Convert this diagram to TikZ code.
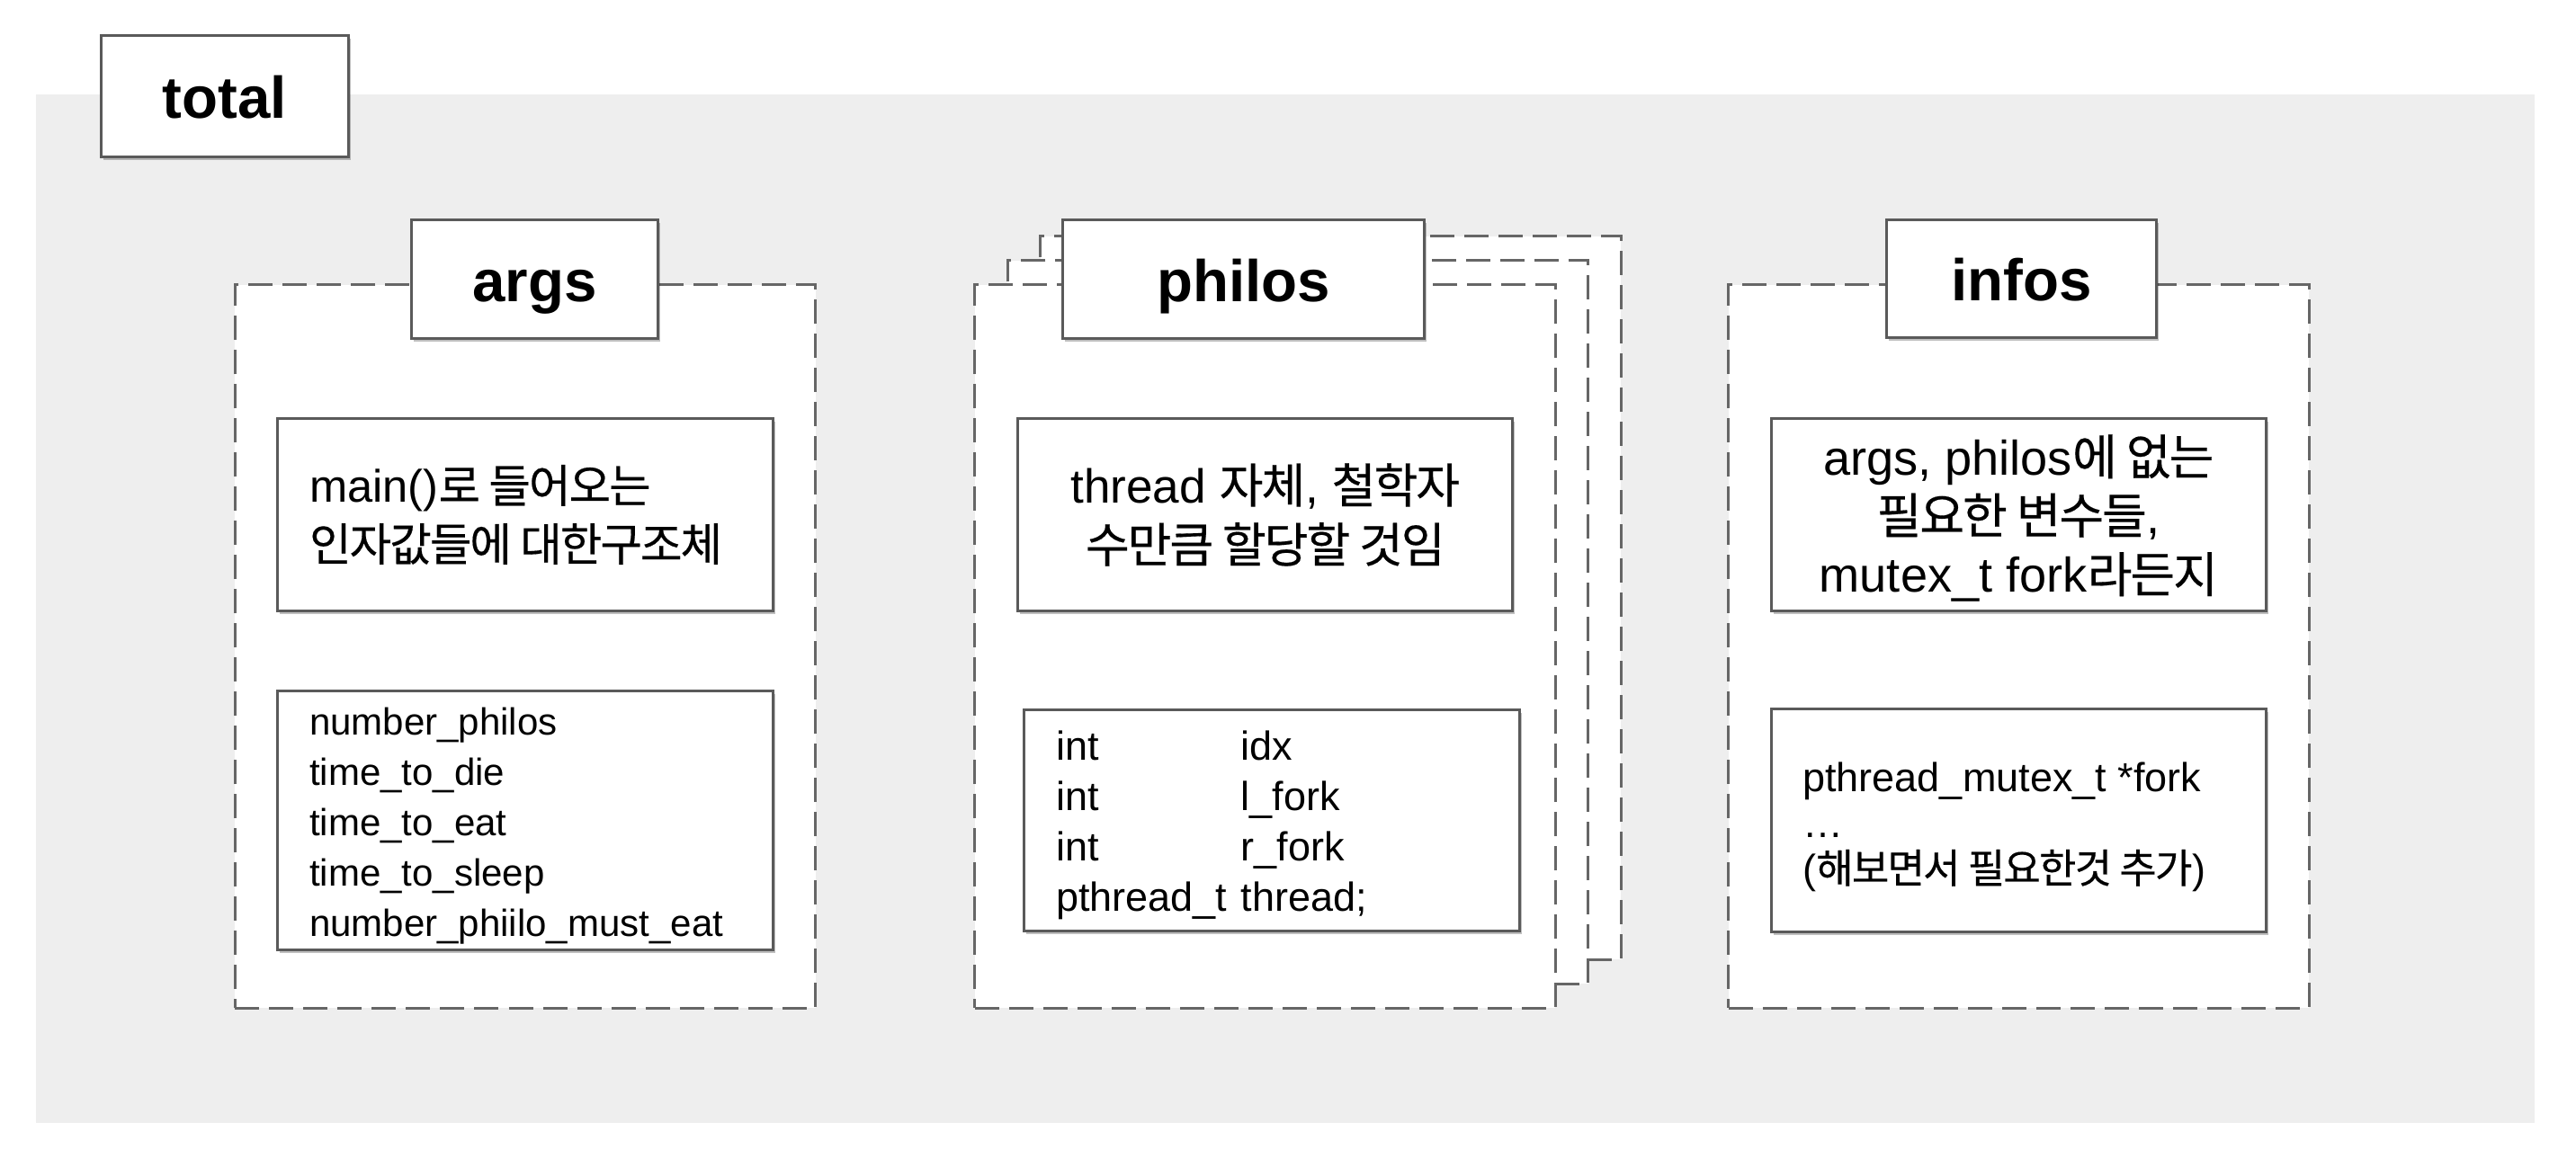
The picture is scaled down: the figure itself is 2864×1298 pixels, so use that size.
\documentclass[tikz,border=0pt]{standalone}
\usepackage{fontspec}
\setmainfont{Liberation Sans}
\newfontfamily\kr[Scale=1.0,LetterSpace=-4,FakeBold=0.3]{Noto Sans CJK KR}
\usetikzlibrary{shadows}
\definecolor{bggray}{RGB}{238,238,238}
\definecolor{edgegray}{RGB}{90,90,90}
\definecolor{dashgray}{RGB}{102,102,102}
\begin{document}
\begin{tikzpicture}[x=0.01cm,y=-0.01cm,
  solidbox/.style={draw=edgegray, line width=0.03cm, fill=white, rectangle, inner sep=0pt,
     drop shadow={shadow xshift=0.025cm, shadow yshift=-0.035cm, opacity=0.25, fill=black}},
  dashframe/.style={draw=dashgray, line width=0.03cm, fill=white, rectangle, inner sep=0pt,
     dash pattern=on 0.27cm off 0.11cm, minimum width=6.45cm, minimum height=8.04cm},
  labelbox/.style={solidbox, minimum height=1.31cm, text height=14pt, text depth=0pt,
     font=\fontsize{18.6pt}{22pt}\selectfont\bfseries},
  descbox/.style={solidbox, minimum width=5.5cm, minimum height=2.13cm},
  lefttext/.style={anchor=west, align=left, inner sep=0pt}
]
\useasboundingbox (0,0) rectangle (2864,1298);
\fill[bggray] (40,105) rectangle (2818,1249);

% total
\node[labelbox, minimum width=2.74cm, minimum height=1.34cm] (total) at (250,107) {total};

% args
\node[dashframe] (argsframe) at (584,719) {};
\node[labelbox, minimum width=2.73cm] (argslabel) at (594.5,310.5) {args};
\node[descbox] (argsdesc) at (584,572.5) {};
\node[lefttext, font=\fontsize{14.4pt}{18.5pt}\selectfont] (argsdesctxt) at ([xshift=0.36cm]argsdesc.west)
  {main(){\kr 로 들어오는}\\{\kr 인자값들에 대한구조체}};
\node[solidbox, minimum width=5.5cm, minimum height=2.87cm] (argslist) at (584,912.5) {};
\node[lefttext, font=\fontsize{11.95pt}{15.9pt}\selectfont] (argslisttxt) at ([xshift=0.36cm,yshift=-0.06cm]argslist.west)
  {number\_philos\\time\_to\_die\\time\_to\_eat\\time\_to\_sleep\\number\_phiilo\_must\_eat};

% philos (stacked)
\node[dashframe] (philosback) at (1479.5,665) {};
\node[dashframe] (philosmid) at (1443,692) {};
\node[dashframe] (philosframe) at (1406.5,719) {};
\node[labelbox, minimum width=4.01cm] (philoslabel) at (1382.5,310.5) {philos};
\node[descbox, align=center, font=\fontsize{15.1pt}{18.8pt}\selectfont] (philosdesc) at (1406.75,572.5)
  {thread {\kr 자체}, {\kr 철학자}\\{\kr 수만큼 할당할 것임}};
\node[solidbox, minimum width=5.5cm, minimum height=2.455cm] (philoscode) at (1414,912.75) {};
\node[lefttext, font=\fontsize{12.8pt}{15.9pt}\selectfont] (philoscodetxt) at ([xshift=0.36cm,yshift=-0.05cm]philoscode.west)
  {\makebox[2.055cm][l]{int}idx\\\makebox[2.055cm][l]{int}l\_fork\\\makebox[2.055cm][l]{int}r\_fork\\\makebox[2.055cm][l]{pthread\_t}thread;};

% infos
\node[dashframe] (infosframe) at (2244.5,719) {};
\node[labelbox, minimum width=3.0cm] (infoslabel) at (2247.5,310) {infos};
\node[descbox] (infosdesc) at (2244.25,572.5) {};
\node[align=center, inner sep=0pt, font=\fontsize{15.4pt}{18.6pt}\selectfont] (infosdesctxt) at ([yshift=-0.04cm]infosdesc.center)
  {args, philos{\kr 에 없는}\\{\kr 필요한 변수들},\\mutex\_t fork{\kr 라든지}};
\node[solidbox, minimum width=5.5cm, minimum height=2.47cm] (infosnote) at (2244.25,912.5) {};
\node[lefttext, font=\fontsize{12.8pt}{14.5pt}\selectfont] (infosnotetxt) at ([xshift=0.36cm,yshift=-0.07cm]infosnote.west)
  {pthread\_mutex\_t *fork\\…\\({\kr 해보면서 필요한것 추가})};
\end{tikzpicture}
\end{document}
